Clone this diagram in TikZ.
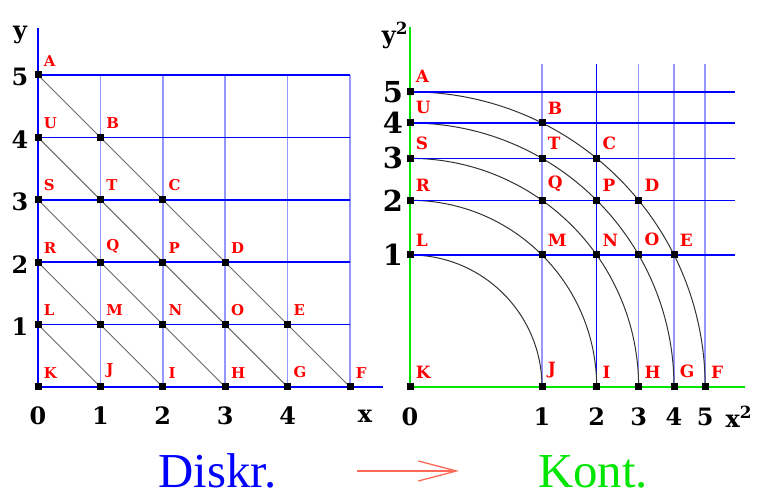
\documentclass[tikz,border=0pt]{standalone}
\usepackage{fontspec}
\setmainfont{DejaVu Serif}
\newfontfamily\titlefont{Liberation Serif}
\usetikzlibrary{arrows.meta, backgrounds}
\definecolor{gridblue}{RGB}{0,0,255}
\definecolor{paleblue}{RGB}{150,150,255}
\definecolor{axisgreen}{RGB}{0,230,0}
\definecolor{salmon}{RGB}{255,105,85}

\begin{document}
\begin{tikzpicture}[x=1bp, y=1bp,
  pt/.style={rectangle, fill=black, inner sep=0pt, minimum size=7bp},
  lbl/.style={text=red, font=\bfseries\fontsize{15}{15}\selectfont, inner sep=0pt,
              anchor=south west, xshift=2bp, yshift=5bp},
  num/.style={font=\bfseries\fontsize{24}{24}\selectfont, inner sep=0pt},
  bignum/.style={font=\bfseries\fontsize{29}{29}\selectfont, inner sep=0pt},
  hline/.style={gridblue, line width=1.5bp},
  vline/.style={paleblue, line width=1.5bp},
  diag/.style={black!60, line width=0.9bp},
  bogen/.style={black!80, line width=1bp},
  achse/.style={axisgreen, line width=1.5bp},
  titel/.style={font=\titlefont\fontsize{49}{49}\selectfont, inner sep=0pt,
                anchor=base, text height=34bp, text depth=0pt},
  pfeil/.style={salmon, line width=1.3bp, -{Straight Barb[length=38bp, width=20bp]}}
]
\useasboundingbox (0,0) rectangle (757,499);

% diskret
\begin{scope}[xshift=38bp, yshift=112bp, x=62.4bp, y=62.4bp]
  \foreach \n/\i/\j in {A/0/5, U/0/4, B/1/4, S/0/3, T/1/3, C/2/3, R/0/2, Q/1/2,
      P/2/2, D/3/2, L/0/1, M/1/1, N/2/1, O/3/1, E/4/1, K/0/0, J/1/0, I/2/0,
      H/3/0, G/4/0, F/5/0}
    \node[pt, label={[lbl]north east:\n}] (d\n) at (\i,\j) {};
  \begin{scope}[on background layer]
    \foreach \i in {1,...,5} \draw[vline] (\i,0) -- (\i,5);
    \foreach \j in {1,...,5} \draw[hline] (0,\j) -- (5,\j);
    \draw[hline] (0,0) -- (5.53,0) (0,0) -- (0,5.75);
    \foreach \a/\b in {A/F, U/G, S/H, R/I, L/J}
      \draw[diag] (d\a.center) -- (d\b.center);
  \end{scope}
  \foreach \i in {0,...,4} \node[num, yshift=-29bp] (dx\i) at (\i,0) {\i};
  \foreach \j in {1,...,5} \node[num, xshift=-18bp, yshift=-2bp] (dy\j) at (0,\j) {\j};
  \node[num, yshift=-29bp] (dxlab) at (5.24,0) {x};
  \node[num, xshift=-18bp] (dylab) at (0,5.64) {y};
\end{scope}

% kontinuierlich
\begin{scope}[xshift=410bp, yshift=112bp, x=132bp, y=132bp,
              lbl/.append style={font=\bfseries\fontsize{17}{17}\selectfont}]
  \foreach \n/\i/\j in {A/0/5, U/0/4, B/1/4, S/0/3, T/1/3, C/2/3, R/0/2, Q/1/2,
      P/2/2, D/3/2, L/0/1, M/1/1, N/2/1, O/3/1, E/4/1, K/0/0, J/1/0, I/2/0,
      H/3/0, G/4/0, F/5/0}
    \node[pt, label={[lbl]north east:\n}] (k\n) at ({sqrt(\i)},{sqrt(\j)}) {};
  \begin{scope}[on background layer]
    \foreach \i in {1,3,4,5} \draw[vline] ({sqrt(\i)},0) -- ({sqrt(\i)},2.45);
    \draw[hline] ({sqrt(2)},0) -- ({sqrt(2)},2.45);
    \foreach \a/\r in {A/5, U/4, S/3, R/2, L/1}
      \draw[bogen] (k\a.center) arc[start angle=90, end angle=0, radius={sqrt(\r)}];
    \foreach \j in {1,...,5} \draw[hline] (0,{sqrt(\j)}) -- (2.46,{sqrt(\j)});
    \draw[achse] (0,0) -- (2.54,0) (0,0) -- (0,2.73);
  \end{scope}
  \node[num, yshift=-30bp] (kx0) at (0,0) {0};
  \foreach \i in {1,...,5} \node[num, yshift=-30bp] (kx\i) at ({sqrt(\i)},0) {\i};
  \foreach \j in {1,...,5} \node[bignum, xshift=-17bp] (ky\j) at (0,{sqrt(\j)}) {\j};
  \node[num, yshift=-30bp] (kxlab) at (2.49,0) {x\textsuperscript{2}};
  \node[num, xshift=-15bp] (kylab) at (0,2.66) {y\textsuperscript{2}};
\end{scope}

\node[titel, text=gridblue] (diskr) at (217.5,11) {Diskr.};
\node[titel, text=axisgreen] (kont) at (593,11) {Kont.};
\draw[pfeil, shorten <=80bp, shorten >=79bp] (diskr.east) -- (kont.west);
\end{tikzpicture}
\end{document}
